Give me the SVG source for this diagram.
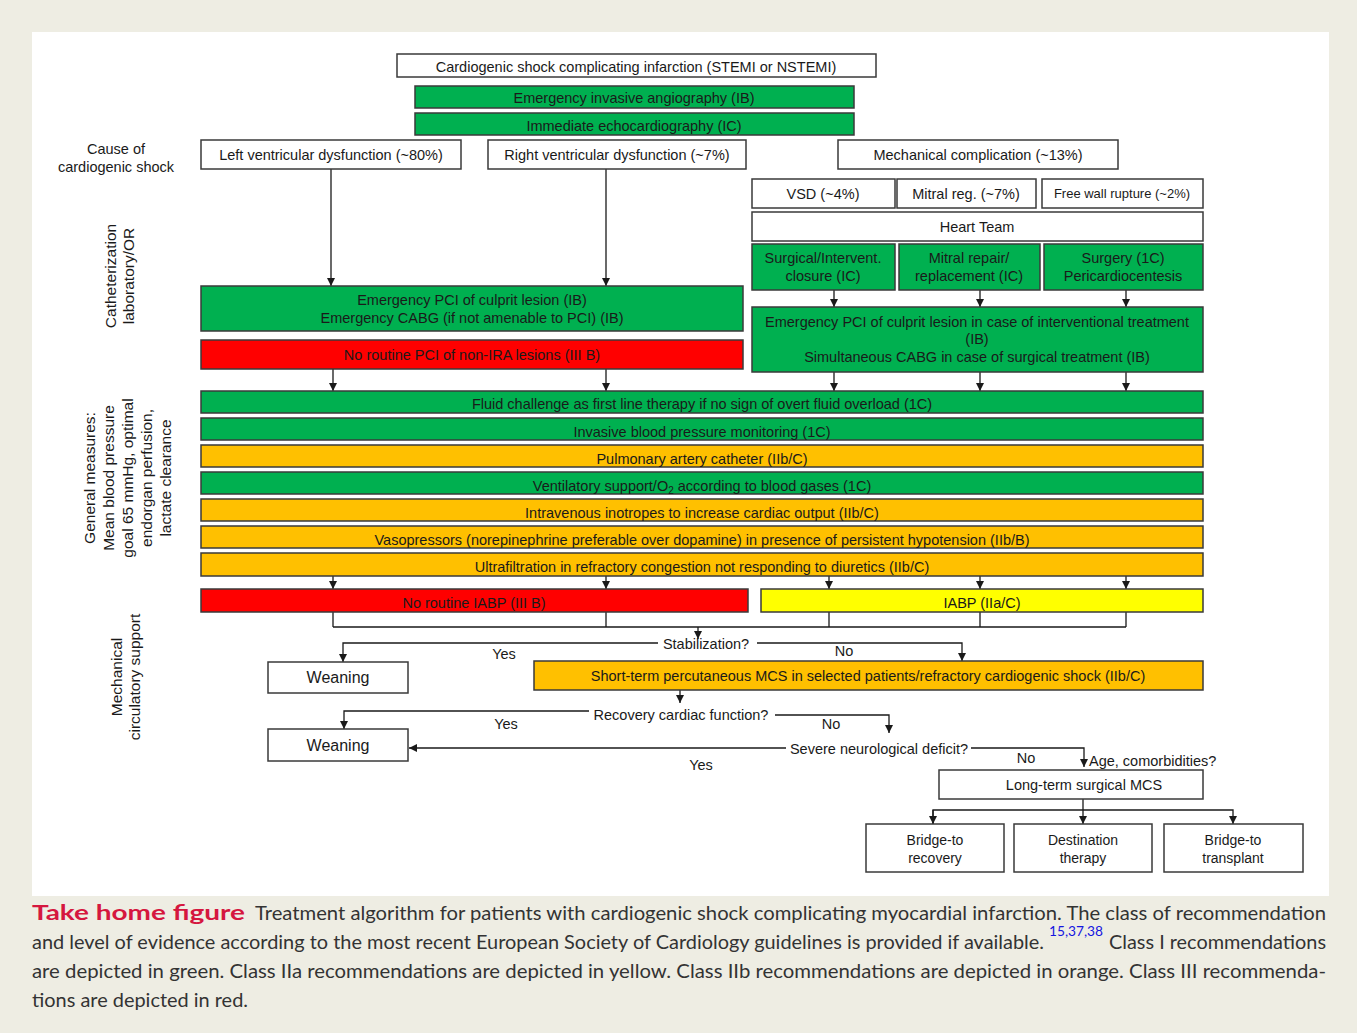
<svg xmlns="http://www.w3.org/2000/svg" width="1357" height="1033" viewBox="0 0 1357 1033">
<defs>
<marker id="ah" viewBox="0 0 10 10" refX="10" refY="5" markerWidth="8" markerHeight="8" markerUnits="userSpaceOnUse" orient="auto">
<path d="M0,0 L10,5 L0,10 Z" fill="#1a1a1a"/>
</marker>
<style>
.bx{stroke:#3a3a3a;stroke-width:1.5}
.w{fill:#ffffff}
.g{fill:#00B050}
.r{fill:#FF0000}
.o{fill:#FFC000}
.y{fill:#FFFF00}
.t{font-family:"Liberation Sans",Arial,sans-serif;font-size:14.5px;fill:#1a1a1a;text-anchor:middle}
.tl{font-family:"Liberation Sans",Arial,sans-serif;font-size:14.5px;fill:#1a1a1a}
.big{font-size:16px}
.lab{font-family:"Liberation Sans",Arial,sans-serif;font-size:14.5px;fill:#1a1a1a;text-anchor:middle}
.rl{font-size:15.5px}
.ln{fill:none;stroke:#1a1a1a;stroke-width:1.3}
.cap{font-family:Lato,"Open Sans",sans-serif;font-size:20px;fill:#333333}
</style>
</defs>
<rect x="0" y="0" width="1357" height="1033" fill="#EEEDE3"/>
<rect x="32" y="32" width="1297" height="864" fill="#ffffff"/>

<g id="side-labels">
<text class="lab" x="116" y="154">Cause of</text>
<text class="lab" x="116" y="172">cardiogenic shock</text>
<text class="lab rl" transform="translate(116,276) rotate(-90)">Catheterization</text>
<text class="lab rl" transform="translate(134,276) rotate(-90)">laboratory/OR</text>
<text class="lab rl" transform="translate(95,478) rotate(-90)">General measures:</text>
<text class="lab rl" transform="translate(114,478) rotate(-90)">Mean blood pressure</text>
<text class="lab rl" transform="translate(133,478) rotate(-90)">goal 65 mmHg,  optimal</text>
<text class="lab rl" transform="translate(152,478) rotate(-90)">endorgan perfusion,</text>
<text class="lab rl" transform="translate(171,478) rotate(-90)">lactate clearance</text>
<text class="lab rl" transform="translate(122,677) rotate(-90)">Mechanical</text>
<text class="lab rl" transform="translate(140,677) rotate(-90)">circulatory support</text>
</g>

<g id="connectors">
<line class="ln" x1="331" y1="169" x2="331" y2="286" marker-end="url(#ah)"/>
<line class="ln" x1="606" y1="169" x2="606" y2="286" marker-end="url(#ah)"/>
<line class="ln" x1="834" y1="290" x2="834" y2="307" marker-end="url(#ah)"/>
<line class="ln" x1="980" y1="290" x2="980" y2="307" marker-end="url(#ah)"/>
<line class="ln" x1="1126" y1="290" x2="1126" y2="307" marker-end="url(#ah)"/>
<line class="ln" x1="333" y1="369" x2="333" y2="391" marker-end="url(#ah)"/>
<line class="ln" x1="606" y1="369" x2="606" y2="391" marker-end="url(#ah)"/>
<line class="ln" x1="834" y1="372" x2="834" y2="391" marker-end="url(#ah)"/>
<line class="ln" x1="980" y1="372" x2="980" y2="391" marker-end="url(#ah)"/>
<line class="ln" x1="1126" y1="372" x2="1126" y2="391" marker-end="url(#ah)"/>
<line class="ln" x1="333" y1="576" x2="333" y2="589" marker-end="url(#ah)"/>
<line class="ln" x1="606" y1="576" x2="606" y2="589" marker-end="url(#ah)"/>
<line class="ln" x1="829" y1="576" x2="829" y2="589" marker-end="url(#ah)"/>
<line class="ln" x1="980" y1="576" x2="980" y2="589" marker-end="url(#ah)"/>
<line class="ln" x1="1126" y1="576" x2="1126" y2="589" marker-end="url(#ah)"/>
<path class="ln" d="M333,612 V627 M606,612 V627 M829,612 V627 M980,612 V627 M1126,612 V627 M333,627 H1126"/>
<line class="ln" x1="698" y1="627" x2="698" y2="639" marker-end="url(#ah)"/>
<path class="ln" d="M658,643 H343 V662" marker-end="url(#ah)"/>
<path class="ln" d="M757,643 H962 V661" marker-end="url(#ah)"/>
<line class="ln" x1="680" y1="690" x2="680" y2="703" marker-end="url(#ah)"/>
<path class="ln" d="M589,711 H344 V729" marker-end="url(#ah)"/>
<path class="ln" d="M775,715 H889 V733" marker-end="url(#ah)"/>
<line class="ln" x1="786" y1="748" x2="409" y2="748" marker-end="url(#ah)"/>
<path class="ln" d="M971,748 H1084 V767" marker-end="url(#ah)"/>
<line class="ln" x1="1083" y1="799" x2="1083" y2="824" marker-end="url(#ah)"/>
<path class="ln" d="M933,824 V810 H1233 V824" marker-end="url(#ah)"/>
<path class="ln" d="M933,810 V824" marker-end="url(#ah)"/>
<text class="t" x="504" y="659">Yes</text>
<text class="t" x="844" y="656">No</text>
<text class="t" x="506" y="729">Yes</text>
<text class="t" x="831" y="729">No</text>
<text class="t" x="701" y="770">Yes</text>
<text class="t" x="1026" y="763">No</text>
<text class="t" x="706" y="649">Stabilization?</text>
<text class="t" x="681" y="720">Recovery cardiac function?</text>
<text class="t" x="879" y="754">Severe neurological deficit?</text>
<text class="tl" x="1089" y="766">Age, comorbidities?</text>
</g>

<g id="n-start"><rect class="bx w" x="397" y="54" width="479" height="23"/><text class="t" x="636" y="72">Cardiogenic shock complicating infarction (STEMI or NSTEMI)</text></g>
<g id="n-angio"><rect class="bx g" x="415" y="86" width="439" height="22"/><text class="t" x="634" y="103">Emergency invasive angiography (IB)</text></g>
<g id="n-echo"><rect class="bx g" x="415" y="113" width="439" height="22"/><text class="t" x="634" y="131">Immediate echocardiography (IC)</text></g>
<g id="n-lv"><rect class="bx w" x="201" y="140" width="260" height="29"/><text class="t" x="331" y="160">Left ventricular  dysfunction (~80%)</text></g>
<g id="n-rv"><rect class="bx w" x="488" y="140" width="258" height="29"/><text class="t" x="617" y="160">Right ventricular  dysfunction (~7%)</text></g>
<g id="n-mech"><rect class="bx w" x="838" y="140" width="280" height="29"/><text class="t" x="978" y="160">Mechanical complication (~13%)</text></g>
<g id="n-vsd"><rect class="bx w" x="752" y="179" width="143" height="29"/><text class="t" x="823" y="199">VSD (~4%)</text></g>
<g id="n-mr"><rect class="bx w" x="897" y="179" width="139" height="29"/><text class="t" x="966" y="199">Mitral  reg. (~7%)</text></g>
<g id="n-fwr"><rect class="bx w" x="1042" y="179" width="161" height="29"/><text class="t" x="1122" y="198" style="font-size:13px">Free wall  rupture (~2%)</text></g>
<g id="n-team"><rect class="bx w" x="752" y="212" width="451" height="29"/><text class="t" x="977" y="232">Heart Team</text></g>
<g id="n-closure"><rect class="bx g" x="752" y="244" width="143" height="46"/><text class="t" x="823" y="263">Surgical/Intervent.</text><text class="t" x="823" y="281">closure (IC)</text></g>
<g id="n-mitral"><rect class="bx g" x="899" y="244" width="141" height="46"/><text class="t" x="969" y="263">Mitral  repair/</text><text class="t" x="969" y="281">replacement (IC)</text></g>
<g id="n-surgery"><rect class="bx g" x="1044" y="244" width="159" height="46"/><text class="t" x="1123" y="263">Surgery (1C)</text><text class="t" x="1123" y="281">Pericardiocentesis</text></g>
<g id="n-pci-mech"><rect class="bx g" x="752" y="307" width="451" height="65"/><text class="t" x="977" y="327">Emergency PCI of culprit lesion in case of interventional  treatment</text><text class="t" x="977" y="344">(IB)</text><text class="t" x="977" y="362">Simultaneous CABG in case of surgical treatment (IB)</text></g>
<g id="n-pci"><rect class="bx g" x="201" y="286" width="542" height="45"/><text class="t" x="472" y="305">Emergency PCI of culprit lesion (IB)</text><text class="t" x="472" y="323">Emergency CABG (if not amenable to PCI) (IB)</text></g>
<g id="n-nonira"><rect class="bx r" x="201" y="340" width="542" height="29"/><text class="t" x="472" y="360">No routine  PCI of non-IRA lesions (III B)</text></g>
<g id="n-fluid"><rect class="bx g" x="201" y="391" width="1002" height="22"/><text class="t" x="702" y="409">Fluid challenge as first line therapy if no sign of overt fluid overload (1C)</text></g>
<g id="n-ibp"><rect class="bx g" x="201" y="418" width="1002" height="22"/><text class="t" x="702" y="437">Invasive blood pressure monitoring (1C)</text></g>
<g id="n-pac"><rect class="bx o" x="201" y="445" width="1002" height="22"/><text class="t" x="702" y="464">Pulmonary artery catheter (IIb/C)</text></g>
<g id="n-vent"><rect class="bx g" x="201" y="472" width="1002" height="22"/><text class="t" x="702" y="491">Ventilatory support/O<tspan font-size="10" dy="3">2</tspan><tspan dy="-3"> according to blood gases (1C)</tspan></text></g>
<g id="n-inotr"><rect class="bx o" x="201" y="499" width="1002" height="22"/><text class="t" x="702" y="518">Intravenous  inotropes to increase cardiac  output (IIb/C)</text></g>
<g id="n-vaso"><rect class="bx o" x="201" y="526" width="1002" height="22"/><text class="t" x="702" y="545">Vasopressors (norepinephrine preferable over dopamine) in  presence of persistent hypotension (IIb/B)</text></g>
<g id="n-uf"><rect class="bx o" x="201" y="553" width="1002" height="23"/><text class="t" x="702" y="572">Ultrafiltration  in refractory congestion not responding to diuretics (IIb/C)</text></g>
<g id="n-noiabp"><rect class="bx r" x="201" y="589" width="547" height="23"/><text class="t" x="474" y="608">No routine IABP (III B)</text></g>
<g id="n-iabp"><rect class="bx y" x="761" y="589" width="442" height="23"/><text class="t" x="982" y="608">IABP (IIa/C)</text></g>
<g id="n-wean1"><rect class="bx w" x="268" y="662" width="140" height="31"/><text class="t big" x="338" y="683">Weaning</text></g>
<g id="n-mcs"><rect class="bx o" x="534" y="661" width="669" height="29"/><text class="t" x="868" y="681">Short-term percutaneous MCS in  selected patients/refractory cardiogenic shock (IIb/C)</text></g>
<g id="n-wean2"><rect class="bx w" x="268" y="729" width="140" height="32"/><text class="t big" x="338" y="751">Weaning</text></g>
<g id="n-ltmcs"><rect class="bx w" x="939" y="770" width="264" height="29"/><text class="t" x="1084" y="790">Long-term surgical MCS</text></g>
<g id="n-btr"><rect class="bx w" x="866" y="824" width="138" height="48"/><text class="t" x="935" y="845" style="font-size:14px">Bridge-to</text><text class="t" x="935" y="863" style="font-size:14px">recovery</text></g>
<g id="n-dt"><rect class="bx w" x="1014" y="824" width="138" height="48"/><text class="t" x="1083" y="845" style="font-size:14px">Destination</text><text class="t" x="1083" y="863" style="font-size:14px">therapy</text></g>
<g id="n-btt"><rect class="bx w" x="1164" y="824" width="139" height="48"/><text class="t" x="1233" y="845" style="font-size:14px">Bridge-to</text><text class="t" x="1233" y="863" style="font-size:14px">transplant</text></g>

<g id="caption">
<text class="cap" x="32" y="920" textLength="213" lengthAdjust="spacingAndGlyphs" style="font-weight:bold;fill:#D5173F;font-size:21px">Take home figure</text>
<text class="cap" x="255" y="920" textLength="1071" lengthAdjust="spacingAndGlyphs">Treatment algorithm for patients with cardiogenic shock complicating myocardial infarction. The class of recommendation</text>
<text class="cap" x="32" y="949" textLength="1012" lengthAdjust="spacingAndGlyphs">and level of evidence according to the most recent European Society of Cardiology guidelines is provided if available.</text>
<text class="cap" x="1049" y="936" style="font-size:14px;fill:#1515E0" textLength="54" lengthAdjust="spacingAndGlyphs">15,37,38</text>
<text class="cap" x="1109" y="949" textLength="217" lengthAdjust="spacingAndGlyphs">Class I recommendations</text>
<text class="cap" x="32" y="978" textLength="1294" lengthAdjust="spacingAndGlyphs">are depicted in green. Class IIa recommendations are depicted in yellow. Class IIb recommendations are depicted in orange. Class III recommenda-</text>
<text class="cap" x="32" y="1007" textLength="216" lengthAdjust="spacingAndGlyphs">tions are depicted in red.</text>
</g>
</svg>
